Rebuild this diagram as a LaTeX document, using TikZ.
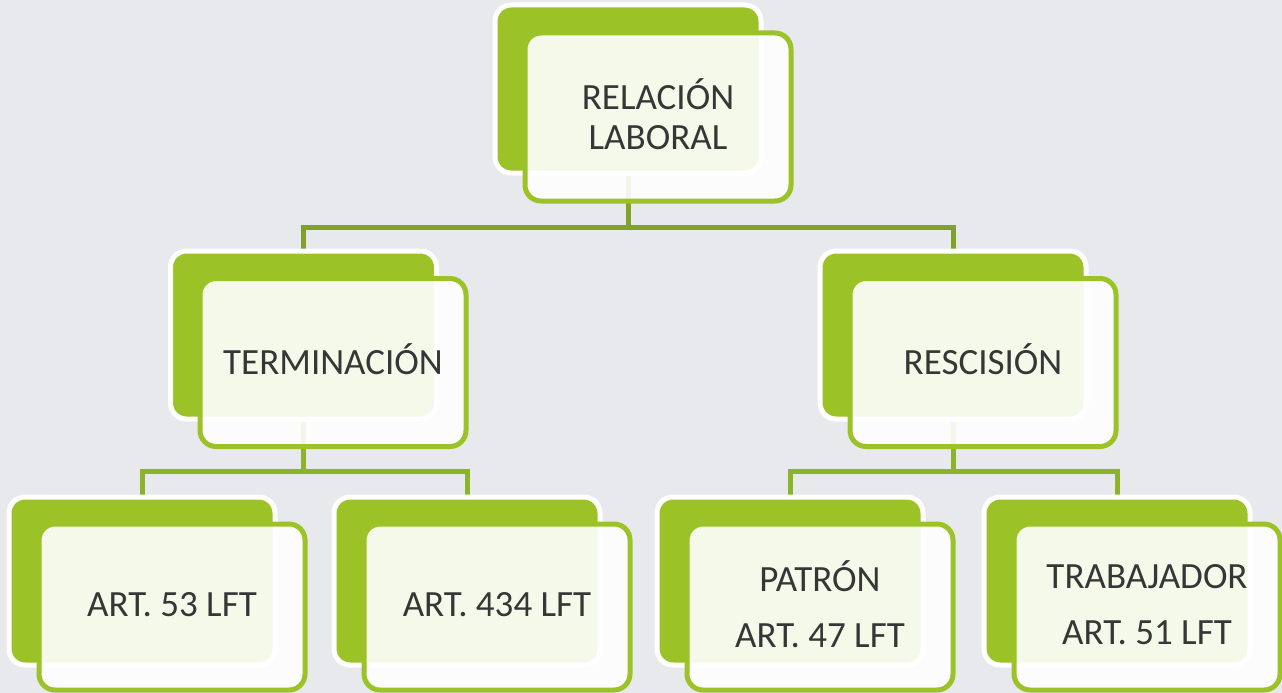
\documentclass[tikz,border=0pt]{standalone}
\usepackage{fontspec}
\setmainfont{Carlito}
\definecolor{bgc}{HTML}{E8E9EC}
\definecolor{grn}{HTML}{9BC227}
\definecolor{lineA}{HTML}{80A12A}
\definecolor{lineB}{HTML}{8BB42A}
\definecolor{txt}{HTML}{363636}
\pgfdeclarelayer{bglayer}
\pgfdeclarelayer{lines}
\pgfsetlayers{bglayer,lines,main}
\begin{document}
\begin{tikzpicture}[x=1pt,y=-1pt,
  backbox/.style={draw=white, line width=5pt, fill=grn, rounded corners=16pt,
    minimum width=266pt, minimum height=168pt, inner sep=0pt},
  frontbox/.style={draw=grn, line width=5pt, fill=white, fill opacity=0.9, text opacity=1,
    rounded corners=16pt, minimum width=266pt, minimum height=168pt, inner sep=0pt,
    align=center, font=\fontsize{37}{40}\selectfont, text=txt, text depth=6pt},
  connA/.style={draw=lineA, line width=5pt},
  connB/.style={draw=lineB, line width=5pt}]
\useasboundingbox (0,0) rectangle (1282,693);
\begin{pgfonlayer}{bglayer}
  \fill[bgc] (0,0) rectangle (1282,693);
\end{pgfonlayer}

% back boxes
\node[backbox] (top)  at (628,89)  {};
\node[backbox] (term) at (303.5,335) {};
\node[backbox] (resc) at (953,335) {};
\node[backbox] (a53)  at (142,581) {};
\node[backbox] (a434) at (467,581) {};
\node[backbox] (pat)  at (790,581) {};
\node[backbox] (trab) at (1117,581) {};

% front boxes
\node[frontbox] (topf)  at (658,117) {RELACIÓN\\LABORAL};
\node[frontbox] (termf) at (333,362.5) {TERMINACIÓN};
\node[frontbox] (rescf) at (983,362.5) {RESCISIÓN};
\node[frontbox, minimum height=166pt] (a53f)  at (172,607) {ART. 53 LFT};
\node[frontbox, minimum height=166pt] (a434f) at (497,607) {ART. 434 LFT};
\node[frontbox, minimum height=166pt] (patf)  at (820,607) {PATRÓN\\[16pt]ART. 47 LFT};
\node[frontbox, minimum height=166pt] (trabf) at (1147,607) {TRABAJADOR\\[16pt]ART. 51 LFT};

% connectors
\coordinate (j1) at (628,227);
\coordinate (j2) at (303.5,471);
\coordinate (j3) at (953,471);
\begin{pgfonlayer}{lines}
  \draw[connA] (top.south) -- (j1);
  \draw[connA] (term.north) |- (j1) -| (resc.north);
  \draw[connB] (term.south) -- (j2);
  \draw[connB] (a53.north) |- (j2) -| (a434.north);
  \draw[connB] (resc.south) -- (j3);
  \draw[connB] (pat.north) |- (j3) -| (trab.north);
\end{pgfonlayer}
\end{tikzpicture}
\end{document}
